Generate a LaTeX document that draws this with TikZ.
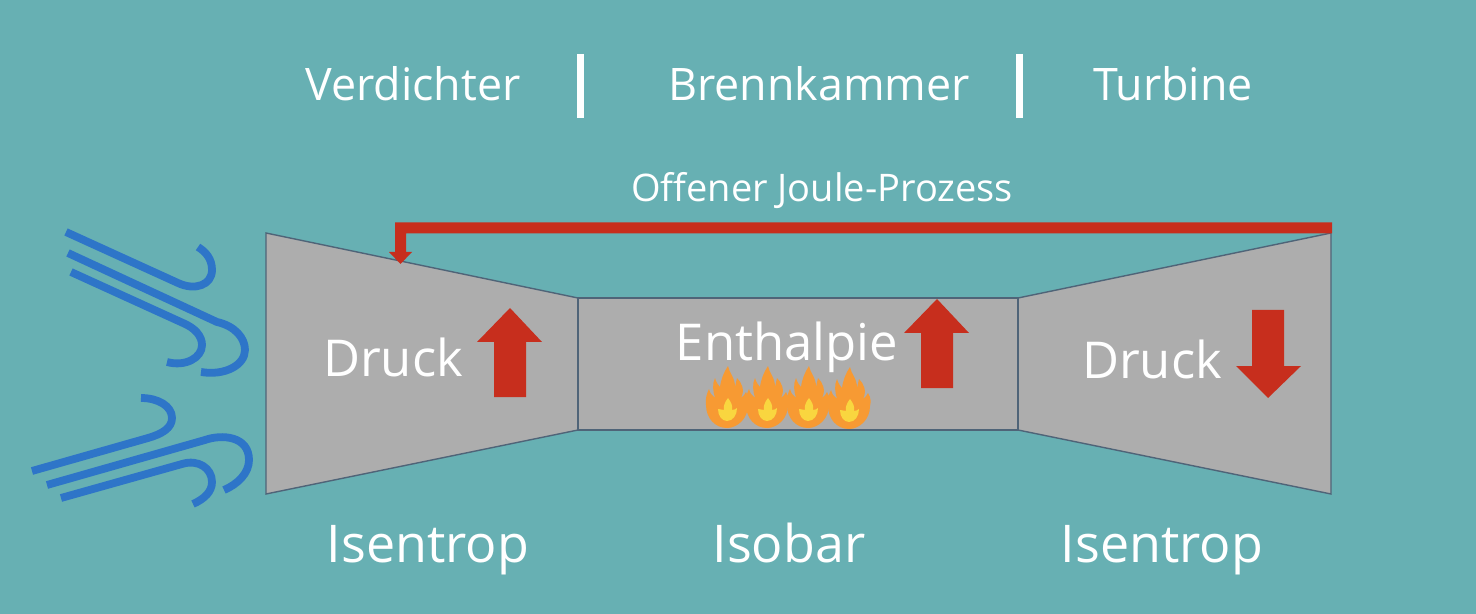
\documentclass[tikz,border=0pt]{standalone}
\usepackage{fontspec}
\setmainfont{Open Sans}
\usetikzlibrary{arrows.meta}
\definecolor{bgc}{HTML}{67B0B3}
\definecolor{grayc}{HTML}{ADADAD}
\definecolor{edgec}{HTML}{4F6478}
\definecolor{redc}{HTML}{C72E1D}
\definecolor{bluec}{HTML}{2E75C8}
\definecolor{orangec}{HTML}{F79A33}
\definecolor{yellowc}{HTML}{F9D63F}
\tikzset{
  part/.style={fill=grayc,draw=edgec,line width=0.7pt},
  head/.style={anchor=base,text=white,font=\fontsize{22.4}{26}\selectfont,inner sep=0pt},
  small/.style={anchor=base,text=white,font=\fontsize{19}{23}\selectfont,inner sep=0pt},
  big/.style={anchor=base,text=white,font=\fontsize{25.4}{30}\selectfont,inner sep=0pt},
  bottom/.style={anchor=base,text=white,font=\fontsize{26}{31}\selectfont,inner sep=0pt},
  bar/.style={draw=white,line width=3.5pt},
  wind/.style={draw=bluec,line width=3.9pt,line join=round},
  blockarrow/.style={fill=redc,draw=none},
  flame/.pic={
    \fill[orangec] (-21,-2) .. controls (-22,-8) and (-20,-14) .. (-18,-18)
      .. controls (-17,-14) and (-15,-11) .. (-12,-9)
      .. controls (-14,-16) and (-15,-23) .. (-12,-29)
      .. controls (-11,-25) and (-9,-22) .. (-7,-20)
      .. controls (-6,-28) and (-3,-35) .. (1,-41)
      .. controls (2,-34) and (8,-30) .. (8,-20)
      .. controls (9,-23) and (9,-26) .. (10,-29)
      .. controls (15,-24) and (18,-17) .. (14,-9)
      .. controls (16,-10) and (18,-13) .. (19,-15)
      .. controls (22,-10) and (22,-6) .. (21,-2)
      .. controls (21,12) and (10,21) .. (0,21)
      .. controls (-12,21) and (-21,11) .. (-21,-2) -- cycle;
    \fill[yellowc] (1,-9) .. controls (4,-5) and (6,-1) .. (5,3)
      .. controls (7,3) and (9,2) .. (10,1)
      .. controls (10,8) and (6,14) .. (0,14)
      .. controls (-5,14) and (-9,9) .. (-9,2)
      .. controls (-7,2) and (-5,3) .. (-3,3)
      .. controls (-4,-1) and (-2,-5) .. (1,-9) -- cycle;
  }
}
\begin{document}
\begin{tikzpicture}[x=0.5pt,y=-0.5pt]
\fill[bgc] (0,0) rectangle (1476,614);
\useasboundingbox (0,0) rectangle (1476,614);
% machine
\draw[part] (266,233) -- (578,298) -- (578,430) -- (266,494) -- cycle;
\draw[part] (1018,298) -- (1331,233) -- (1331,494) -- (1018,430) -- cycle;
\draw[part] (578,298) rectangle (1018,430);
% top labels
\node[head] (verd) at (413,101) {Verdichter};
\node[head] (brenn) at (819,101) {Brennkammer};
\node[head] (turb) at (1173,101) {Turbine};
\coordinate (b1a) at (580.5,54); \coordinate (b1b) at (580.5,118);
\coordinate (b2a) at (1019.5,54); \coordinate (b2b) at (1019.5,118);
\draw[bar] (b1a) -- (b1b);
\draw[bar] (b2a) -- (b2b);
\node[small] (joule) at (822,202) {Offener Joule-Prozess};
% feedback arrow
\fill[blockarrow] (1332,222.5) -- (395,222.5) -- (395,252) -- (389,252) -- (400.5,264) -- (412,252) -- (406,252) -- (406,233.5) -- (1332,233.5) -- cycle;
% text in the parts
\node[big] (d1) at (393,377) {Druck};
\node[big] (enth) at (787,360) {Enthalpie};
\node[big] (d2) at (1152,379) {Druck};
% block arrows
\fill[blockarrow] (510,308) -- (542,342) -- (526,342) -- (526,397) -- (494,397) -- (494,342) -- (477,342) -- cycle;
\fill[blockarrow] (937,299) -- (969,333) -- (953,333) -- (953,388) -- (921,388) -- (921,333) -- (904,333) -- cycle;
\fill[blockarrow] (1268,398) -- (1301,366) -- (1284,366) -- (1284,310) -- (1252,310) -- (1252,366) -- (1236,366) -- cycle;
% flames
\pic at (727,407) {flame};
\pic at (767,407) {flame};
\pic at (808,407) {flame};
\pic at (849,408) {flame};
% bottom labels
\node[bottom] (i1) at (428,562) {Isentrop};
\node[bottom] (i2) at (789,562) {Isobar};
\node[bottom] (i3) at (1162,562) {Isentrop};
% wind, upper
\draw[wind] (66,232) -- (178,283) .. controls (195,291) and (212,285) .. (212,270) .. controls (212,259) and (206,252) .. (198,247);
\draw[wind] (68,253) -- (217,322) .. controls (235,326) and (245,338) .. (245,350) .. controls (245,365) and (225,376) .. (201,372);
\draw[wind] (71,272) -- (183,323) .. controls (195,328) and (202,336) .. (202,345) .. controls (202,358) and (185,367) .. (167,362);
% wind, lower
\draw[wind] (32,471) -- (148,438) .. controls (162,434) and (172,428) .. (172,418) .. controls (172,406) and (158,398) .. (141,398);
\draw[wind] (47,485) -- (205,440) .. controls (222,434) and (249,436) .. (249,460) .. controls (249,473) and (238,484) .. (224,490);
\draw[wind] (61,498) -- (182,464) .. controls (198,459) and (212,468) .. (212,482) .. controls (212,492) and (204,499) .. (193,504);
\end{tikzpicture}
\end{document}
